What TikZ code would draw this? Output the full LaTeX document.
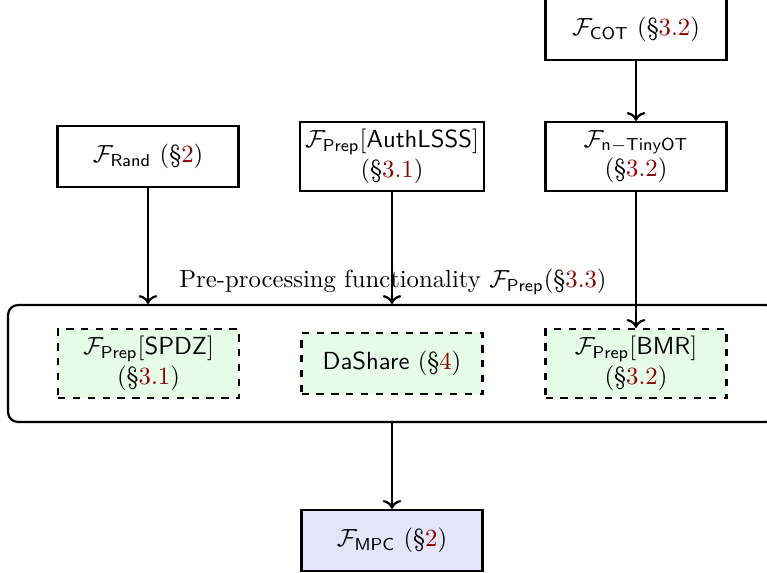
\documentclass[tikz,border=0pt]{standalone}
\usepackage{amsmath}
\usetikzlibrary{arrows.meta}
\definecolor{secred}{rgb}{0.55,0,0}
\definecolor{prepgreen}{HTML}{E6FCE6}
\definecolor{mpcblue}{HTML}{E5E5FA}
\newcommand{\sref}[1]{\textcolor{secred}{#1}}
\newcommand{\Fn}[1]{\mathcal{F}_{\mathsf{#1}}}
\begin{document}
\begin{tikzpicture}[x=0.4046pt,y=-0.4046pt,
  fbox/.style={draw,line width=0.9pt,align=center,minimum width=73.2pt,minimum height=24.7pt,inner sep=2pt},
  fbox2/.style={fbox,minimum height=27.9pt},
  dbox/.style={fbox2,dashed,fill=prepgreen},
  conn/.style={line width=0.9pt,->}]
\clip (0,0) rectangle (767,573);
\useasboundingbox (0,0) rectangle (767,573);
\node[fbox] (cot) at (636,29.5) {$\Fn{COT}$\ (\S\sref{3.2})};
\node[fbox] (rand) at (148,156.5) {$\Fn{Rand}$\ (\S\sref{2})};
\node[fbox2] (auth) at (392,156.5) {$\Fn{Prep}[\mathsf{AuthLSSS}]$\\(\S\sref{3.1})};
\node[fbox2] (tiny) at (636,156.5) {$\Fn{n-TinyOT}$\\(\S\sref{3.2})};
\node[draw,line width=0.9pt,rounded corners=4pt,minimum width=310.7pt,minimum height=47.3pt] (big) at (392,363.5) {};
\node (lbl) at (393,282) {Pre-processing functionality $\Fn{Prep}$(\S\sref{3.3})};
\node[dbox] (spdz) at (148.5,363.5) {$\Fn{Prep}[\mathsf{SPDZ}]$\\(\S\sref{3.1})};
\node[fbox,dashed,fill=prepgreen] (dash) at (392,363.5) {\textsf{DaShare} (\S\sref{4})};
\node[dbox] (bmr) at (636,363.5) {$\Fn{Prep}[\mathsf{BMR}]$\\(\S\sref{3.2})};
\node[fbox,fill=mpcblue] (mpc) at (392,540.5) {$\Fn{MPC}$\ (\S\sref{2})};
\draw[conn] (cot) -- (tiny);
\draw[conn] (rand) -- (rand |- big.north);
\draw[conn] (auth) -- (auth |- big.north);
\draw[conn] (tiny) -- (bmr);
\draw[conn] (big) -- (mpc);
\end{tikzpicture}
\end{document}
